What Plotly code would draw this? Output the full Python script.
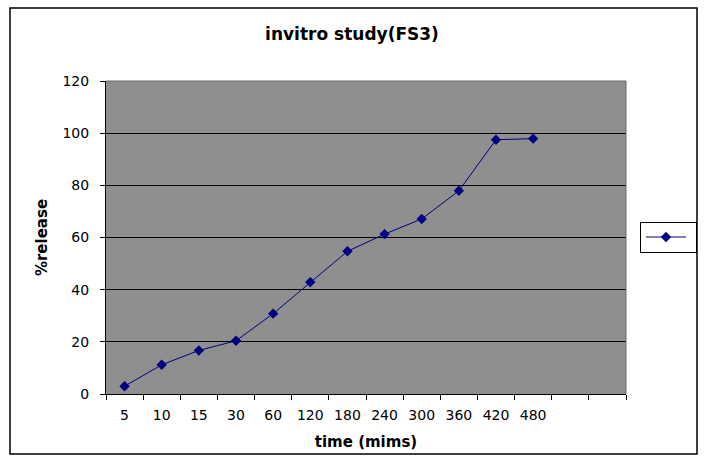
import plotly.graph_objects as go

# Sampling times (minutes) and cumulative drug release (%)
time_labels = ["5", "10", "15", "30", "60", "120", "180", "240", "300", "360", "420", "480"]
release_pct = [3.0, 11.2, 16.7, 20.4, 30.8, 42.9, 54.7, 61.3, 67.1, 77.9, 97.5, 97.9]
# two empty slots keep room after the last sampling time
axis_categories = time_labels + [" ", "  "]
y_ticks = [0, 20, 40, 60, 80, 100, 120]

W, H = 704, 459
L, R, T, B = 106, 78, 81, 65
pw, ph = W - L - R, H - T - B

def px_x(x):
    return (x - L) / pw

def px_y(y):
    return (H - B - y) / ph

font_family = "DejaVu Sans, Arial, sans-serif"
navy = "#000080"

fig = go.Figure()
fig.add_trace(go.Scatter(
    x=time_labels, y=release_pct, mode="lines+markers", name="",
    line=dict(color=navy, width=1),
    marker=dict(symbol="diamond", size=8, color=navy),
    showlegend=True,
))

fig.update_layout(
    width=W, height=H,
    margin=dict(l=L, r=R, t=T, b=B, autoexpand=False),
    paper_bgcolor="white",
    plot_bgcolor="#8f8f8f",
    font=dict(family=font_family, size=14, color="black"),
    title=dict(text="<b>invitro study(FS3)</b>", x=0.5, xanchor="center",
               y=1 - 34 / H, yanchor="middle",
               font=dict(size=17, family=font_family)),
    xaxis=dict(
        type="category", categoryorder="array", categoryarray=axis_categories,
        range=[-0.5, len(axis_categories) - 0.5],
        tickson="boundaries", ticks="outside", ticklen=5, tickcolor="black",
        showline=True, linecolor="black", linewidth=1,
        showgrid=False, zeroline=False, ticklabelstandoff=8,
        tickfont=dict(size=14),
        title=dict(text="<b>time (mims)</b>", font=dict(size=15), standoff=14),
    ),
    yaxis=dict(
        range=[0, 120], tickvals=y_ticks,
        ticks="outside", ticklen=5, tickcolor="black",
        showline=True, linecolor="black", linewidth=1,
        showgrid=True, gridcolor="black", gridwidth=1,
        zeroline=False, ticklabelstandoff=8,
        tickfont=dict(size=14),
        title=dict(text="<b>%release</b>", font=dict(size=15), standoff=11),
    ),
    legend=dict(
        x=px_x(640), y=px_y(237), xanchor="left", yanchor="middle",
        bordercolor="black", borderwidth=1, bgcolor="white",
        itemwidth=40, font=dict(size=6),
    ),
    shapes=[
        # outer chart frame
        dict(type="rect", xref="paper", yref="paper",
             x0=px_x(10), x1=px_x(697), y0=px_y(454), y1=px_y(8),
             line=dict(color="black", width=1.5), layer="above"),
        # darker edge along top and right of plot area
        dict(type="line", xref="paper", yref="paper", x0=0, x1=1, y0=1, y1=1,
             line=dict(color="#6a6a6a", width=1), layer="above"),
        dict(type="line", xref="paper", yref="paper", x0=1, x1=1, y0=0, y1=1,
             line=dict(color="#6a6a6a", width=1), layer="above"),
    ],
)

fig.write_html("out.html")
